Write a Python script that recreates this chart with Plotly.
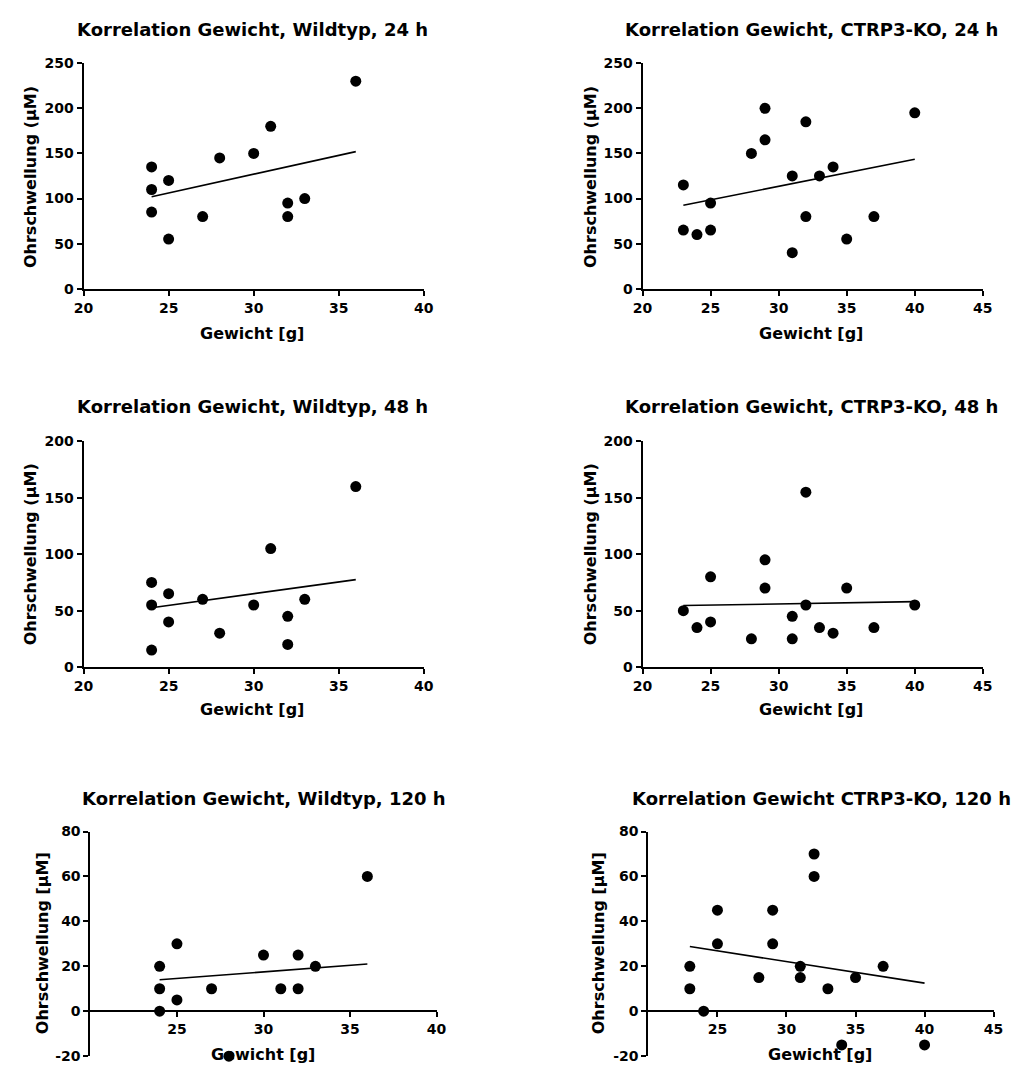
import plotly.graph_objects as go

# ---------------- data ----------------
wt24_x = [24, 24, 24, 25, 25, 27, 28, 30, 31, 32, 32, 33, 36]
wt24_y = [135, 110, 85, 120, 55, 80, 145, 150, 180, 95, 80, 100, 230]
wt24_fit_x = [24, 36]
wt24_fit_y = [102, 152]

ko24_x = [23, 23, 24, 25, 25, 28, 29, 29, 31, 31, 32, 32, 33, 34, 35, 37, 40]
ko24_y = [115, 65, 60, 95, 65, 150, 200, 165, 125, 40, 185, 80, 125, 135, 55, 80, 195]
ko24_fit_x = [23, 40]
ko24_fit_y = [92.5, 143.5]

wt48_x = [24, 24, 24, 25, 25, 27, 28, 30, 31, 32, 32, 33, 36]
wt48_y = [75, 55, 15, 65, 40, 60, 30, 55, 105, 45, 20, 60, 160]
wt48_fit_x = [24, 36]
wt48_fit_y = [52.5, 77.5]

ko48_x = [23, 24, 25, 25, 28, 29, 29, 31, 31, 32, 32, 33, 34, 35, 37, 40]
ko48_y = [50, 35, 80, 40, 25, 95, 70, 45, 25, 155, 55, 35, 30, 70, 35, 55]
ko48_fit_x = [23, 40]
ko48_fit_y = [54.5, 58]

wt120_x = [24, 24, 24, 25, 25, 27, 28, 30, 31, 32, 32, 33, 36]
wt120_y = [20, 10, 0, 30, 5, 10, -20, 25, 10, 25, 10, 20, 60]
wt120_fit_x = [24, 36]
wt120_fit_y = [14, 21]

ko120_x = [23, 23, 24, 25, 25, 28, 29, 29, 31, 31, 32, 32, 33, 34, 35, 37, 40]
ko120_y = [20, 10, 0, 45, 30, 15, 45, 30, 20, 15, 70, 60, 10, -15, 15, 20, -15]
ko120_fit_x = [23, 40]
ko120_fit_y = [28.8, 12.5]

titles = [
    "Korrelation Gewicht, Wildtyp, 24 h",
    "Korrelation Gewicht, CTRP3-KO, 24 h",
    "Korrelation Gewicht, Wildtyp, 48 h",
    "Korrelation Gewicht, CTRP3-KO, 48 h",
    "Korrelation Gewicht, Wildtyp, 120 h",
    "Korrelation Gewicht CTRP3-KO, 120 h",
]
x_title = "Gewicht [g]"
y_titles = [
    "Ohrschwellung (µM)", "Ohrschwellung (µM)",
    "Ohrschwellung (µM)", "Ohrschwellung (µM)",
    "Ohrschwellung [µM]", "Ohrschwellung [µM]",
]

x_ticks_wt = [20, 25, 30, 35, 40]
x_ticks_ko = [20, 25, 30, 35, 40, 45]
x_ticks_wt120 = [25, 30, 35, 40]
x_ticks_ko120 = [25, 30, 35, 40, 45]
y_ticks_24 = [0, 50, 100, 150, 200, 250]
y_ticks_48 = [0, 50, 100, 150, 200]
y_ticks_120 = [-20, 0, 20, 40, 60, 80]
y_ticktext_120 = ["-20", "0", "20", "40", "60", "80"]

# ---------------- layout geometry (pixels) ----------------
W, H = 1034, 1073
panels = [
    dict(x=wt24_x, y=wt24_y, fx=wt24_fit_x, fy=wt24_fit_y, px=(75, 422), py=(56, 285),
         xr=[20, 40], yr=[0, 250], xt=x_ticks_wt, yt=y_ticks_24, ytt=None, free=False,
         tpos=(247, 22), xtpos=(247, 330), ytpos=(21, 172)),
    dict(x=ko24_x, y=ko24_y, fx=ko24_fit_x, fy=ko24_fit_y, px=(645, 992), py=(56, 285),
         xr=[20, 45], yr=[0, 250], xt=x_ticks_ko, yt=y_ticks_24, ytt=None, free=False,
         tpos=(817, 22), xtpos=(817, 330), ytpos=(592, 172)),
    dict(x=wt48_x, y=wt48_y, fx=wt48_fit_x, fy=wt48_fit_y, px=(75, 422), py=(440, 669),
         xr=[20, 40], yr=[0, 200], xt=x_ticks_wt, yt=y_ticks_48, ytt=None, free=False,
         tpos=(247, 405), xtpos=(247, 712), ytpos=(21, 555)),
    dict(x=ko48_x, y=ko48_y, fx=ko48_fit_x, fy=ko48_fit_y, px=(645, 992), py=(440, 669),
         xr=[20, 45], yr=[0, 200], xt=x_ticks_ko, yt=y_ticks_48, ytt=None, free=False,
         tpos=(817, 405), xtpos=(817, 712), ytpos=(592, 555)),
    dict(x=wt120_x, y=wt120_y, fx=wt120_fit_x, fy=wt120_fit_y, px=(82, 435), py=(836, 1064),
         xr=[20, 40], yr=[-20, 80], xt=x_ticks_wt120, yt=y_ticks_120, ytt=y_ticktext_120, free=True,
         tpos=(259, 802), xtpos=(258, 1062), ytpos=(33, 949)),
    dict(x=ko120_x, y=ko120_y, fx=ko120_fit_x, fy=ko120_fit_y, px=(651, 1003), py=(836, 1064),
         xr=[20, 45], yr=[-20, 80], xt=x_ticks_ko120, yt=y_ticks_120, ytt=y_ticktext_120, free=True,
         tpos=(827, 802), xtpos=(826, 1062), ytpos=(600, 949)),
]

FONT = "DejaVu Sans"
tickfont = dict(family=FONT, size=14, color="black", weight="bold")

fig = go.Figure()
layout = dict(
    width=W, height=H, margin=dict(l=0, r=0, t=0, b=0),
    paper_bgcolor="white", plot_bgcolor="white", showlegend=False,
    annotations=[],
)

for i, p in enumerate(panels, start=1):
    xa = "x" if i == 1 else f"x{i}"
    ya = "y" if i == 1 else f"y{i}"
    fig.add_trace(go.Scatter(
        x=p["x"], y=p["y"], mode="markers", xaxis=xa, yaxis=ya,
        marker=dict(color="black", size=11), cliponaxis=False, hoverinfo="skip"))
    fig.add_trace(go.Scatter(
        x=p["fx"], y=p["fy"], mode="lines", xaxis=xa, yaxis=ya,
        line=dict(color="black", width=1.6), cliponaxis=False, hoverinfo="skip"))

    x0, x1 = p["px"]
    ytop, ybot = p["py"]
    xdom = [x0 / W, x1 / W]
    ydom = [1 - ybot / H, 1 - ytop / H]
    xaxis = dict(
        domain=xdom, range=p["xr"], tickvals=p["xt"], ticks="outside", ticklen=5,
        tickwidth=2, tickcolor="black", showline=True, linewidth=2, linecolor="black",
        showgrid=False, zeroline=False, tickfont=tickfont, fixedrange=True,
    )
    if p["free"]:
        # x-axis crosses at y = 0
        frac0 = (0 - p["yr"][0]) / (p["yr"][1] - p["yr"][0])
        y0_paper = ydom[0] + frac0 * (ydom[1] - ydom[0])
        xaxis.update(anchor="free", position=y0_paper)
    else:
        xaxis.update(anchor=ya)
    yaxis = dict(
        domain=ydom, range=p["yr"], tickvals=p["yt"], ticks="outside", ticklen=5,
        tickwidth=2, tickcolor="black", showline=True, linewidth=2, linecolor="black",
        showgrid=False, zeroline=False, tickfont=tickfont, anchor=xa, fixedrange=True,
    )
    if p["ytt"] is not None:
        yaxis.update(ticktext=p["ytt"])
    layout["xaxis" if i == 1 else f"xaxis{i}"] = xaxis
    layout["yaxis" if i == 1 else f"yaxis{i}"] = yaxis

    tx, ty = p["tpos"]
    layout["annotations"].append(dict(
        text=titles[i - 1], x=tx / W, y=1 - ty / H, xref="paper", yref="paper",
        xanchor="center", yanchor="middle", showarrow=False,
        font=dict(family=FONT, size=18, color="black", weight="bold")))
    gx, gy = p["xtpos"]
    layout["annotations"].append(dict(
        text=x_title, x=gx / W, y=1 - gy / H, xref="paper", yref="paper",
        xanchor="center", yanchor="middle", showarrow=False,
        font=dict(family=FONT, size=16, color="black", weight="bold")))
    hx, hy = p["ytpos"]
    layout["annotations"].append(dict(
        text=y_titles[i - 1], x=hx / W, y=1 - hy / H, xref="paper", yref="paper",
        xanchor="center", yanchor="middle", showarrow=False, textangle=-90,
        font=dict(family=FONT, size=16, color="black", weight="bold")))

fig.update_layout(**layout)
fig.write_html("out.html")
